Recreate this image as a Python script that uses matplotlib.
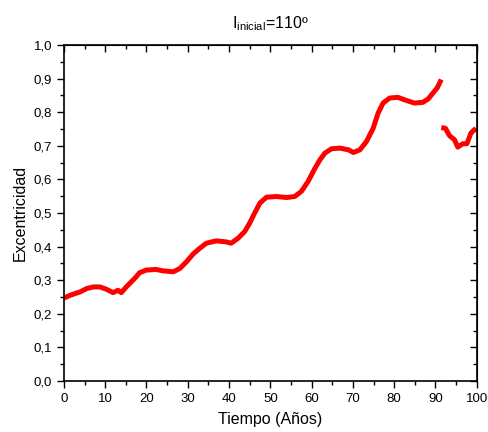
import matplotlib
matplotlib.use('Agg')
from matplotlib import pyplot as plt
from matplotlib.ticker import MultipleLocator, FuncFormatter, NullFormatter

plt.rcParams['font.family'] = ['Liberation Sans', 'DejaVu Sans']
plt.rcParams['mathtext.fontset'] = 'custom'
plt.rcParams['mathtext.rm'] = 'Liberation Sans'
plt.rcParams['mathtext.it'] = 'Liberation Sans'

# Tramo 1 (0 - 91.4 años)
tiempo_1 = [0, 1.5, 3.1, 3.9, 5.5, 7.1, 8.7, 10.3, 11.9, 13.1, 13.9, 15.1, 16.3, 17.5,
            18.3, 19.9, 22.3, 23.9, 26.5, 28.1, 29.7, 31.3, 32.9, 34.5, 36.9, 39.3,
            40.5, 42.2, 43.8, 45.0, 46.2, 47.5, 49.1, 51.5, 53.9, 55.9, 57.5, 59.1,
            60.8, 62.0, 63.2, 64.8, 66.8, 68.9, 70.1, 71.7, 73.3, 74.9, 76.1, 77.3,
            78.9, 80.9, 82.9, 84.9, 86.9, 88.2, 89.4, 90.4, 91.4]
excen_1 = [0.247, 0.255, 0.262, 0.265, 0.275, 0.28, 0.28, 0.273, 0.263, 0.27, 0.263,
           0.28, 0.295, 0.31, 0.322, 0.33, 0.332, 0.328, 0.325, 0.335, 0.355, 0.378,
           0.395, 0.41, 0.417, 0.414, 0.41, 0.425, 0.445, 0.47, 0.50, 0.53, 0.547,
           0.549, 0.546, 0.549, 0.564, 0.593, 0.633, 0.658, 0.678, 0.691, 0.693,
           0.688, 0.68, 0.688, 0.713, 0.752, 0.797, 0.827, 0.842, 0.844, 0.835,
           0.827, 0.829, 0.839, 0.857, 0.872, 0.897]

# Tramo 2 (91.4 - 100 años)
tiempo_2 = [91.4, 92.4, 93.4, 94.6, 95.4, 96.6, 97.6, 98.6, 99.8]
excen_2 = [0.754, 0.752, 0.73, 0.718, 0.696, 0.706, 0.706, 0.738, 0.752]

fig = plt.figure(figsize=(4.88, 4.32), dpi=100)
ax = fig.add_axes([0.131, 0.118, 0.846, 0.778])

for t, e in [(tiempo_1, excen_1), (tiempo_2, excen_2)]:
    ax.plot(t, e, color='#ff0000', lw=3.6, solid_capstyle='butt')

ax.set_xlim(0, 100)
ax.set_ylim(0, 1.0)
ax.xaxis.set_major_locator(MultipleLocator(10))
ax.xaxis.set_minor_locator(MultipleLocator(5))
ax.yaxis.set_major_locator(MultipleLocator(0.1))
ax.yaxis.set_minor_locator(MultipleLocator(0.05))
ax.yaxis.set_major_formatter(FuncFormatter(lambda v, p: f'{v:.1f}'.replace('.', ',')))

ax.tick_params(which='both', direction='out', labelsize=9.5, width=1)
ax.tick_params(which='major', length=5)
ax.tick_params(which='minor', length=3)
for spine in ax.spines.values():
    spine.set_linewidth(1.2)

# ejes superior y derecho con ticks hacia dentro
for sec in [ax.secondary_xaxis('top'), ax.secondary_yaxis('right')]:
    ax_sec = sec.xaxis if hasattr(sec, 'xaxis') and sec._orientation == 'x' else sec.yaxis
    ax_sec.set_major_locator(MultipleLocator(10 if sec._orientation == 'x' else 0.1))
    ax_sec.set_minor_locator(MultipleLocator(5 if sec._orientation == 'x' else 0.05))
    ax_sec.set_major_formatter(NullFormatter())
    sec.tick_params(which='both', direction='in', width=1)
    sec.tick_params(which='major', length=5)
    sec.tick_params(which='minor', length=3)

ax.set_xlabel('Tiempo (Años)', fontsize=11.5, labelpad=5)
ax.set_ylabel('Excentricidad', fontsize=11.5)
ax.set_title(r'I$_{\mathrm{inicial}}$=110º', fontsize=11.5, pad=12)

plt.savefig('out.png', dpi=100)
